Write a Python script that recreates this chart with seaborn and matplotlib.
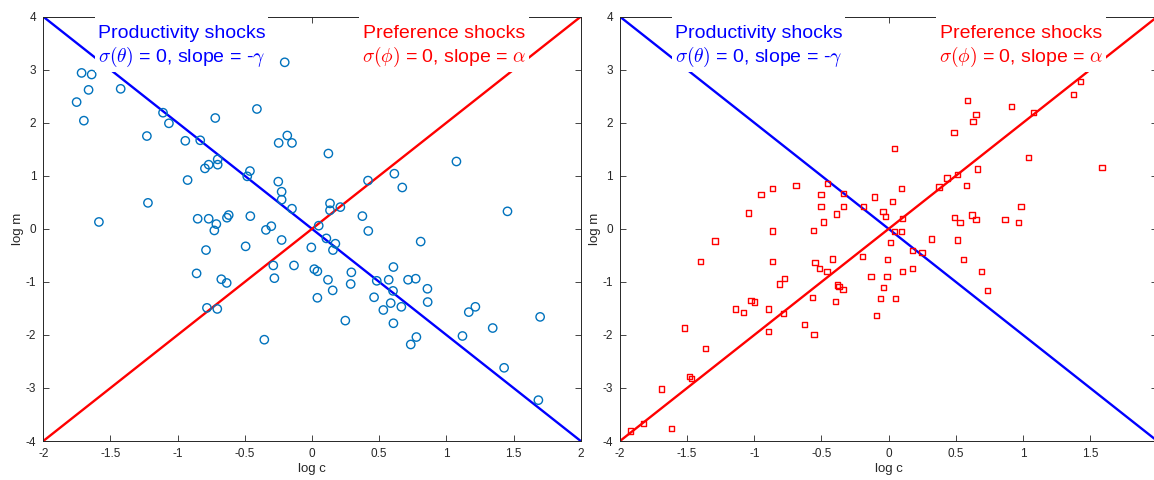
import numpy as np
import pandas as pd
import matplotlib
matplotlib.use("Agg")
import matplotlib.pyplot as plt
import seaborn as sns

# ---------------- data ----------------
prod_c = [-1.715, -1.64, -1.663, -1.752, -1.698, -1.424, -1.586, -1.109, -1.065, -1.229,
          -1.221, -0.943, -0.832, -0.926, -0.72, -0.797, -0.769, -0.702, -0.702, -0.482,
          -0.462, -0.41, -0.203, -0.248, -0.184, -0.149, -0.251, -0.226, -0.226, -0.149,
          -0.851, -0.769, -0.712, -0.727, -0.633, -0.62, -0.459, -0.343, -0.303, -0.226,
          0.05, 0.122, 0.417, 0.613, 0.672, 1.075, 1.455, 0.134, 0.134, 0.211,
          0.375, 0.419, 0.107, 0.809, -0.859, -0.789, -0.494, -0.005, -0.288, -0.134,
          -0.28, -0.675, -0.635, 0.017, 0.04, 0.04, -0.782, -0.705, -0.355, 0.174,
          0.156, 0.119, 0.154, 0.293, 0.288, 0.248, 0.606, 0.571, 0.482, 0.603,
          0.462, 0.586, 0.531, 0.665, 0.606, 0.715, 0.772, 0.859, 0.861, 0.777,
          0.735, 1.167, 1.216, 1.12, 1.345, 1.43, 1.698, 1.685]
prod_m = [2.94, 2.91, 2.62, 2.39, 2.04, 2.64, 0.13, 2.19, 1.99, 1.75,
          0.49, 1.66, 1.67, 0.92, 2.09, 1.14, 1.21, 1.31, 1.21, 0.99,
          1.09, 2.26, 3.14, 1.62, 1.76, 1.62, 0.89, 0.70, 0.55, 0.38,
          0.19, 0.19, 0.09, -0.03, 0.21, 0.26, 0.24, -0.02, 0.05, -0.21,
          0.06, 1.42, 0.91, 1.04, 0.78, 1.27, 0.33, 0.48, 0.35, 0.41,
          0.24, -0.04, -0.18, -0.24, -0.84, -0.40, -0.33, -0.35, -0.69, -0.69,
          -0.93, -0.95, -1.02, -0.76, -0.80, -1.30, -1.49, -1.51, -2.09, -0.28,
          -0.40, -0.96, -1.16, -0.82, -1.04, -1.73, -0.72, -0.96, -0.98, -1.17,
          -1.29, -1.40, -1.53, -1.47, -1.78, -0.96, -0.94, -1.13, -1.38, -2.04,
          -2.18, -1.57, -1.47, -2.02, -1.87, -2.62, -1.66, -3.23]

pref_c = [-1.293, -1.042, -0.951, -0.862, -0.69, -0.864, -0.504, -0.454, -0.335, -0.504,
          -0.338, -0.487, -0.387, -0.561, -0.186, -0.107, -0.042, -0.025,
          0.027, 0.097, 0.045, 0.101, 0.042, 0.094, 0.317, 0.514, 0.375, 0.434,
          0.514, 0.581, 0.66, 0.486, 0.588, 0.65, 0.628, 0.916, 1.077, 1.042,
          1.378, 1.427, 1.588, 0.489, 0.531, 0.62, 0.65, 0.866, 0.968, 0.985,
          -0.196, 0.015, -0.01, -0.132, -0.013, -0.04, -0.062, 0.049, -0.089, 0.104,
          0.179, 0.179, 0.248, 0.558, 0.69, 0.737,
          -1.403, -0.864, -0.549, -0.514, -0.42, -0.459, -0.815, -0.775, -0.383, -0.37,
          -0.34, -1.025, -0.998, -1.139, -1.08, -0.894, -0.785, -0.564, -0.395, -0.626,
          -0.897, -0.556, -1.519, -1.366, -1.48, -1.465, -1.69, -1.824, -1.921, -1.616]
pref_m = [-0.23, 0.30, 0.65, 0.76, 0.82, -0.04, 0.65, 0.85, 0.67, 0.42,
          0.42, 0.13, 0.28, -0.03, 0.42, 0.60, 0.32, 0.23,
          0.52, 0.76, 1.51, 0.19, -0.05, -0.05, -0.19, -0.21, 0.79, 0.96,
          1.03, 0.82, 1.13, 1.82, 2.42, 2.16, 2.03, 2.31, 2.19, 1.35,
          2.53, 2.78, 1.16, 0.21, 0.12, 0.26, 0.17, 0.18, 0.12, 0.42,
          -0.52, -0.26, -0.58, -0.90, -0.90, -1.11, -1.31, -1.32, -1.63, -0.81,
          -0.75, -0.41, -0.45, -0.58, -0.81, -1.16,
          -0.62, -0.62, -0.63, -0.75, -0.57, -0.81, -1.04, -0.94, -1.06, -1.09,
          -1.15, -1.35, -1.38, -1.51, -1.57, -1.51, -1.60, -1.29, -1.37, -1.81,
          -1.93, -1.99, -1.87, -2.25, -2.79, -2.82, -3.02, -3.67, -3.81, -3.77]

line_c = [-2, 2]
prod_line_m = [4, -4]    # slope = -gamma
pref_line_m = [-4, 4]    # slope = alpha

xticks = [-2, -1.5, -1, -0.5, 0, 0.5, 1, 1.5, 2]
xtick_labels = ["-2", "-1.5", "-1", "-0.5", "0", "0.5", "1", "1.5", "2"]
yticks = [-4, -3, -2, -1, 0, 1, 2, 3, 4]
ytick_labels = ["-4", "-3", "-2", "-1", "0", "1", "2", "3", "4"]

prod_text = "\nProductivity shocks\n$\\sigma(\\theta)$ = 0, slope = -$\\gamma$"
pref_text = "\nPreference shocks\n$\\sigma(\\phi)$ = 0, slope = $\\alpha$"

# ---------------- style ----------------
sns.set_style("ticks")
plt.rcParams["font.family"] = ["Liberation Sans", "DejaVu Sans"]
plt.rcParams["mathtext.fontset"] = "cm"
plt.rcParams["axes.unicode_minus"] = False

W, H = 1154, 480
fig = plt.figure(figsize=(W / 100, H / 100), dpi=100)
ax1 = fig.add_axes([43.3 / W, 1 - 441 / H, (580.7 - 43.3) / W, (441 - 16.7) / H])
ax2 = fig.add_axes([620.0 / W, 1 - 441 / H, (1157.3 - 620.0) / W, (441 - 16.7) / H])

BLUE = "#0000ff"
RED = "#ff0000"
AXC = "#262626"

def decorate(ax):
    sns.lineplot(x=line_c, y=prod_line_m, ax=ax, color=BLUE, linewidth=1.7)
    sns.lineplot(x=line_c, y=pref_line_m, ax=ax, color=RED, linewidth=1.7)
    ax.set_xlim(-2, 2)
    ax.set_ylim(-4, 4)
    ax.set_xticks(xticks)
    ax.set_xticklabels(xtick_labels)
    ax.set_yticks(yticks)
    ax.set_yticklabels(ytick_labels)
    ax.tick_params(direction="in", length=4, width=0.6, top=True, right=True,
                   labelsize=8.5, pad=5, colors=AXC)
    for sp in ax.spines.values():
        sp.set_visible(True)
        sp.set_color(AXC)
        sp.set_linewidth(0.7)
    ax.set_xlabel("log c", fontsize=9.5, color=AXC, labelpad=2)
    ax.set_ylabel("log m", fontsize=9.5, color=AXC, labelpad=1)
    tr = ax.get_xaxis_transform()
    ax.text(-0.97, 0.876, prod_text, transform=tr, ha="center", va="bottom",
            multialignment="center", fontsize=14, color=BLUE, zorder=5,
            bbox=dict(boxstyle="square,pad=0.15", fc="white", ec="none"), clip_on=False)
    ax.text(0.985, 0.876, pref_text, transform=tr, ha="center", va="bottom",
            multialignment="center", fontsize=14, color=RED, zorder=5,
            bbox=dict(boxstyle="square,pad=0.15", fc="white", ec="none"), clip_on=False)

df1 = pd.DataFrame({"log c": prod_c, "log m": prod_m})
sns.scatterplot(data=df1, x="log c", y="log m", ax=ax1, marker="o", s=36,
                facecolor="none", edgecolor="#0072BD", linewidth=1.0, zorder=3)
decorate(ax1)

df2 = pd.DataFrame({"log c": pref_c, "log m": pref_m})
sns.scatterplot(data=df2, x="log c", y="log m", ax=ax2, marker="s", s=14,
                facecolor="none", edgecolor=RED, linewidth=1.0, zorder=3)
decorate(ax2)

fig.savefig("out.png", dpi=100)
